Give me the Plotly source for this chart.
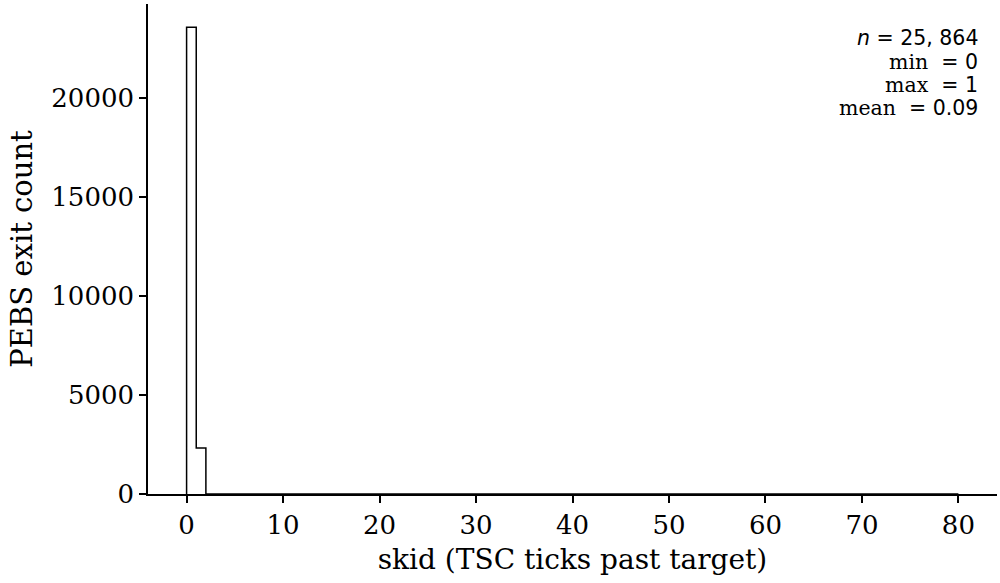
import plotly.graph_objects as go

# histogram of skid values (bins of width 1 from 0 to 80)
bin_edges = list(range(0, 81))
counts = [23540, 2324] + [0] * 78

n_total = 25864
v_min = 0
v_max = 1
v_mean = 0.09

# step outline like matplotlib histtype='step'
xs = [bin_edges[0]] + bin_edges
ys = [0] + counts + [0]

fig = go.Figure()
fig.add_trace(go.Scatter(x=xs, y=ys, mode='lines', line_shape='hv',
                         line=dict(color='black', width=1.5), showlegend=False,
                         hoverinfo='skip'))

serif = 'DejaVu Serif'
sans = 'DejaVu Sans'
n_str = '{:,}'.format(n_total).replace(',', ', ')
stat_lines = [
	'<i>n</i> = %s' % n_str,
	'<span style="font-family:DejaVu Serif">min</span>  = %d' % v_min,
	'<span style="font-family:DejaVu Serif">max</span>  = %d' % v_max,
	'<span style="font-family:DejaVu Serif">mean</span>  = %.2f' % v_mean,
]
# one annotation per line so the line spacing matches
line_y = [0.9306, 0.8822, 0.8347, 0.7878]
for txt, yy in zip(stat_lines, line_y):
	fig.add_annotation(text=txt, xref='paper', yref='paper', x=0.98, y=yy,
					   xanchor='right', yanchor='middle', align='right', showarrow=False,
					   font=dict(family=sans, size=20.5, color='black'))

fig.update_layout(
	width=1000, height=583,
	margin=dict(l=148, r=3, t=4, b=89),
	plot_bgcolor='white', paper_bgcolor='white',
	font=dict(family=serif, size=23, color='black'),
	xaxis=dict(range=[-4, 84], tickvals=[0, 10, 20, 30, 40, 50, 60, 70, 80],
			   showline=True, linecolor='black', linewidth=1.5, ticks='outside',
			   ticklen=7, tickwidth=1.5, tickcolor='black', showgrid=False, zeroline=False,
			   tickfont=dict(size=26),
			   title=dict(text='skid (TSC ticks past target)', standoff=10)),
	yaxis=dict(range=[0, 24717], tickvals=[0, 5000, 10000, 15000, 20000], tickformat='d',
			   showline=True, linecolor='black', linewidth=1.5, ticks='outside',
			   ticklen=7, tickwidth=1.5, tickcolor='black', showgrid=False, zeroline=False,
			   tickfont=dict(size=26),
			   title=dict(text='PEBS exit count', standoff=10, font=dict(size=29))),
)

fig.write_html('out.html', config={'displayModeBar': False},
			   post_script="document.body.style.margin='0px';")
